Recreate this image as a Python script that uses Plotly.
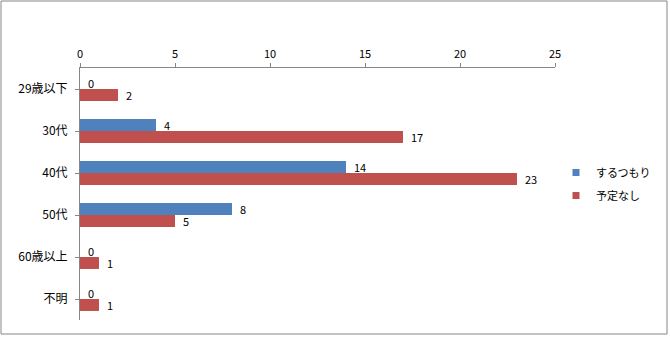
import plotly.graph_objects as go

categories = ["29歳以下", "30代", "40代", "50代", "60歳以上", "不明"]
series_names = ["するつもり", "予定なし"]
plan_yes = [0, 4, 14, 8, 0, 0]
plan_no = [2, 17, 23, 5, 1, 1]
x_ticks = [0, 5, 10, 15, 20, 25]

colors = ["#4F81BD", "#C0504D"]
font_family = "Noto Sans CJK JP"

fig = go.Figure()
for name, vals, col in zip(series_names, [plan_yes, plan_no], colors):
    fig.add_trace(go.Bar(
        y=categories, x=vals, name=name, orientation="h",
        marker=dict(color=col, line=dict(width=0)),
        text=[f"  {v}" for v in vals], textposition="outside",
        textfont=dict(size=11, color="#000000", family=font_family),
        constraintext="none", cliponaxis=False, showlegend=False,
    ))
    # small square legend keys
    fig.add_trace(go.Scatter(
        x=[None], y=[None], mode="markers", name=name, legendgroup=name,
        marker=dict(symbol="square", size=7, color=col),
    ))

W, H = 670, 337
ml, mr, mt, mb = 80, 115, 68, 17
pw, ph = W - ml - mr, H - mt - mb

fig.update_layout(
    width=W, height=H,
    margin=dict(l=ml, r=mr, t=mt, b=mb, pad=0, autoexpand=False),
    paper_bgcolor="white", plot_bgcolor="white",
    barmode="group", bargap=0.43, bargroupgap=0,
    font=dict(family=font_family, size=11, color="#000000"),
    xaxis=dict(
        range=[0, 25], tickvals=x_ticks, side="top", automargin=False,
        showgrid=False, zeroline=False, showline=True,
        linecolor="#868686", linewidth=1,
        ticks="outside", ticklen=4, tickcolor="#868686",
        tickfont=dict(size=11), ticklabelstandoff=1,
    ),
    yaxis=dict(
        autorange="reversed", automargin=False, showgrid=False, zeroline=False,
        showline=True, linecolor="#868686", linewidth=1,
        ticks="outside", ticklen=4, tickcolor="#868686",
        tickfont=dict(size=12), ticklabelstandoff=5,
    ),
    legend=dict(
        x=(556 - ml) / pw, y=(mt + ph - 158) / ph, xanchor="left", yanchor="top",
        font=dict(size=11), itemwidth=30, tracegroupgap=4,
        bgcolor="rgba(0,0,0,0)",
    ),
    showlegend=True,
    shapes=[dict(
        type="rect", xref="paper", yref="paper",
        x0=(1 - ml) / pw, x1=(667 - ml) / pw,
        y0=(mt + ph - 334) / ph, y1=(mt + ph - 1) / ph,
        line=dict(color="#868686", width=1),
    )],
)

fig.write_html("out.html")
